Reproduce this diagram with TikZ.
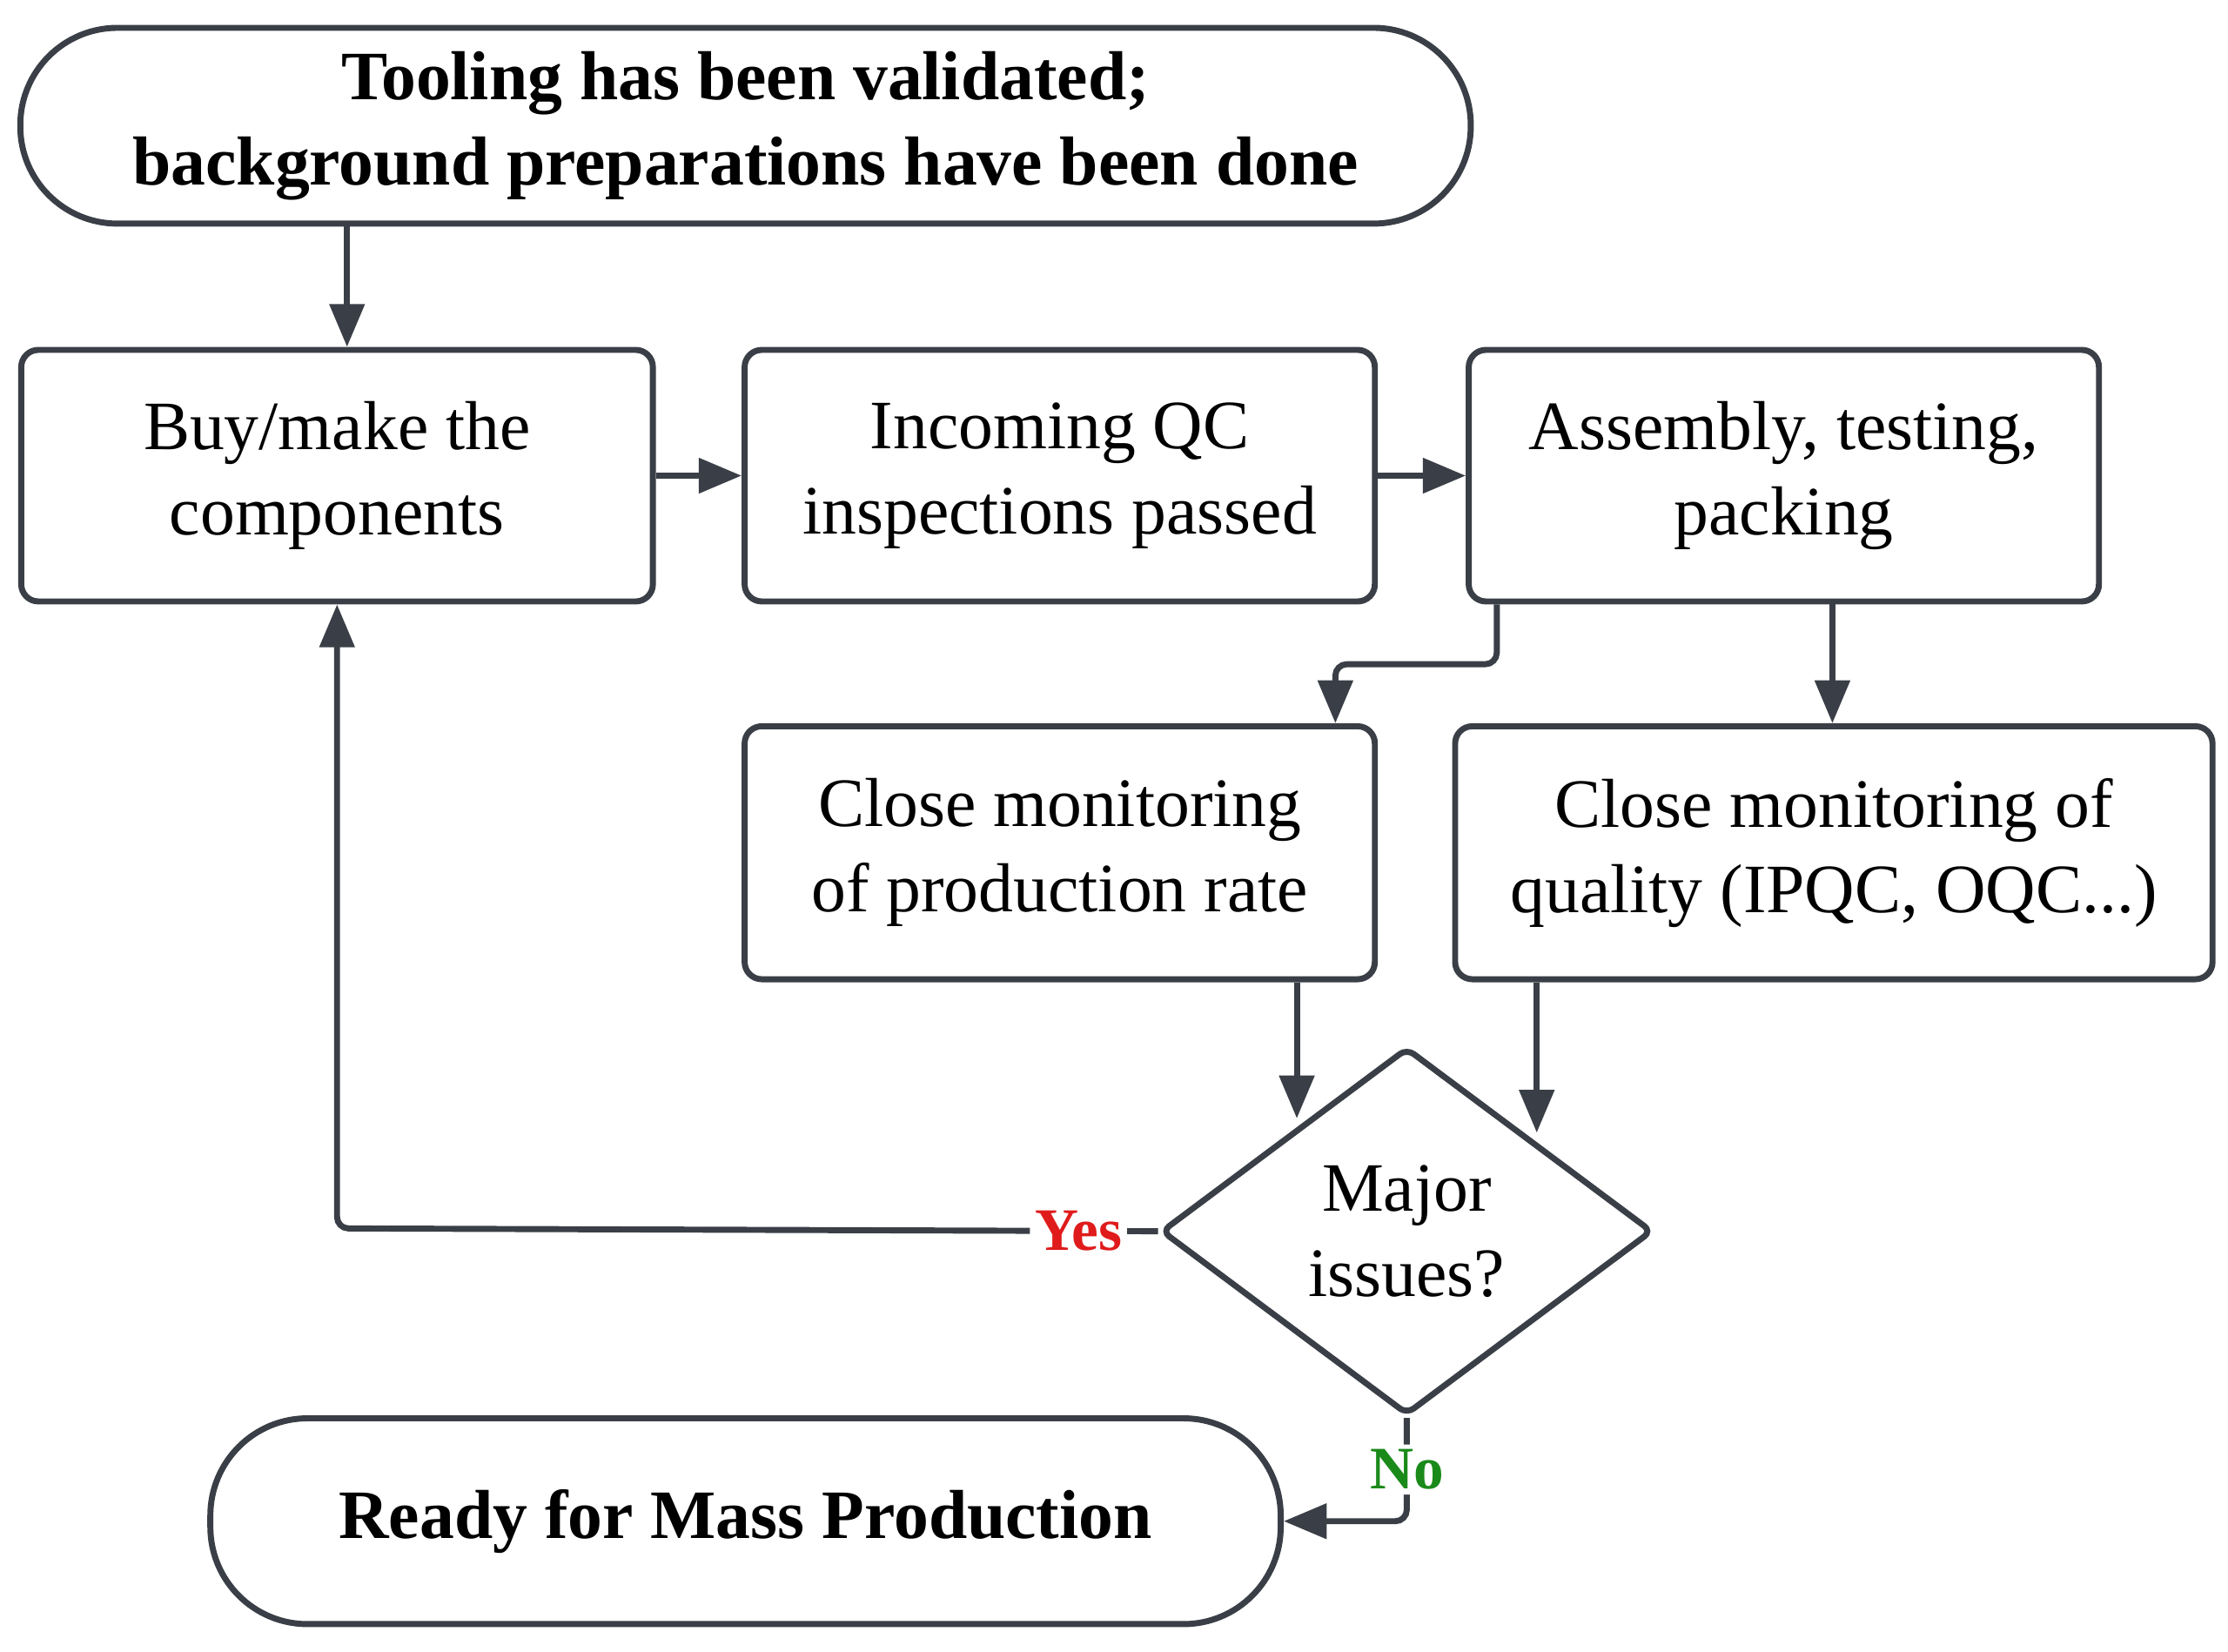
\documentclass[tikz,border=0pt]{standalone}
\usepackage{fontspec}
\setmainfont{Liberation Serif}
\usetikzlibrary{shapes.geometric,arrows.meta,positioning}
\definecolor{LineGray}{HTML}{3A3F47}
\definecolor{YesRed}{HTML}{E01B1B}
\definecolor{NoGreen}{HTML}{1A8A1A}
\tikzset{
  box/.style={draw=LineGray, line width=1.2pt, rounded corners=0.12cm, align=center, font=\fontsize{13.8}{17}\selectfont},
  term/.style={draw=LineGray, line width=1.2pt, rounded corners=0.68cm, align=center, font=\fontsize{13.8}{17}\selectfont\bfseries},
  arr/.style={-{Triangle[length=0.3cm,width=0.24cm]}, draw=LineGray, line width=1.2pt, rounded corners=0.08cm},
}
\begin{document}
\begin{tikzpicture}[x=0.01cm, y=-0.01cm]
            \useasboundingbox (0,0) rectangle (1560,1156);
            % Start and end terminals
            \node[term, minimum width=10.15cm, minimum height=1.37cm] (start) at (522,88) {Tooling has been validated;\\background preparations have been done};
            \node[term, minimum width=7.49cm, minimum height=1.44cm] (ready) at (522,1065) {Ready for Mass Production};

            % Process steps
            \node[box, minimum width=4.42cm, minimum height=1.76cm] (buy) at (236,333) {Buy/make the\\components};
            \node[box, minimum width=4.41cm, minimum height=1.76cm] (iqc) at (742,333) {Incoming QC\\inspections passed};
            \node[box, minimum width=4.41cm, minimum height=1.76cm] (asm) at (1249,333) {Assembly, testing,\\packing};
            \node[box, minimum width=4.41cm, minimum height=1.77cm] (rate) at (742,597) {Close monitoring\\of production rate};
            \node[box, minimum width=5.30cm, minimum height=1.77cm] (qual) at (1284,597) {Close monitoring of\\quality (IPQC, OQC...)};

            % Decision
            \node[diamond, draw=LineGray, line width=1.2pt, rounded corners=0.06cm, minimum width=3.44cm, minimum height=2.57cm, inner sep=0pt, align=center, font=\fontsize{13.8}{17}\selectfont] (major) at (985,862) {Major\\issues?};

            % Main flow
            \draw[arr] (start.south -| 243,0) -- (buy.north -| 243,0);
            \draw[arr] (buy) -- (iqc);
            \draw[arr] (iqc) -- (asm);
            \draw[arr] (asm.south -| 1048,0) -- (1048,465) -- (935,465) -- (rate.north -| 935,0);
            \draw[arr] (asm.south -| 1283,0) -- (qual.north -| 1283,0);
            \draw[arr] (rate.south -| 908,0) -- (908,783);
            \draw[arr] (qual.south -| 1076,0) -- (1076,793);

            % Decision outcomes
            \draw[arr] (major.west) -- (236,860) node[pos=0.097, fill=white, inner sep=1pt, text=YesRed, font=\fontsize{12}{14}\selectfont\bfseries] {Yes} -- (buy.south);
            \draw[arr] (major.south) -- (985,1065) node[pos=0.5, fill=white, inner sep=1pt, text=NoGreen, font=\fontsize{12}{14}\selectfont\bfseries] {No} -- (ready.east);
\end{tikzpicture}
\end{document}
